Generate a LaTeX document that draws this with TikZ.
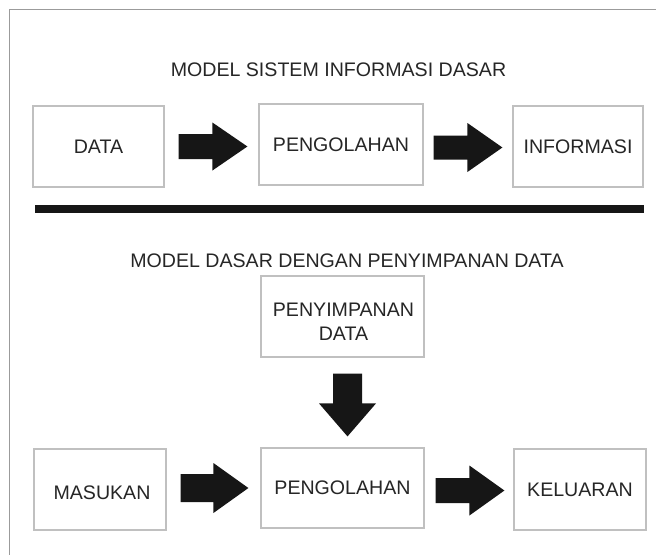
\documentclass[tikz,border=0pt]{standalone}
\usepackage{fontspec}
\setmainfont{Liberation Sans}
\usetikzlibrary{calc}
\definecolor{boxgray}{RGB}{192,192,192}
\definecolor{framegray}{RGB}{155,155,155}
\definecolor{arrowink}{RGB}{22,22,22}
\definecolor{txt}{RGB}{38,38,38}
% horizontal fat arrow: #1 start, #2 tip, #3 half shaft, #4 half head, #5 head length
\newcommand\fatright[5]{%
  \fill[arrowink] let \p1=(#1), \p2=(#2) in
    (\x1,{\y1+#3}) -- ({\x2-#5},{\y1+#3}) -- ({\x2-#5},{\y1+#4}) -- (\x2,\y1)
    -- ({\x2-#5},{\y1-#4}) -- ({\x2-#5},{\y1-#3}) -- (\x1,{\y1-#3}) -- cycle;}
% downward fat arrow
\newcommand\fatdown[5]{%
  \fill[arrowink] let \p1=(#1), \p2=(#2) in
    ({\x1-#3},\y1) -- ({\x1-#3},{\y2+#5}) -- ({\x1-#4},{\y2+#5}) -- (\x1,\y2)
    -- ({\x1+#4},{\y2+#5}) -- ({\x1+#3},{\y2+#5}) -- ({\x1+#3},\y1) -- cycle;}
\begin{document}
\begin{tikzpicture}[x=1pt,y=-1pt,
  lbl/.style={inner sep=0pt, text=txt, align=center,
    font=\fontsize{19.6}{23.5}\selectfont},
  box/.style={lbl, draw=boxgray, line width=1.2pt},
  frameline/.style={draw=framegray, line width=1pt}]
\fill[white] (0,0) rectangle (656,555);
\useasboundingbox (0,0) rectangle (656,555);
\draw[frameline] (656,9) -- (9,9) -- (9,555);

% top model
\node[lbl] (t1) at (338.5,70) {MODEL SISTEM INFORMASI DASAR};
\node[box, minimum width=131pt, minimum height=81pt] (data) at (98.5,146.5) {DATA};
\node[box, minimum width=164pt, minimum height=81pt] (proc1) at (341,144.5) {PENGOLAHAN};
\node[box, minimum width=130pt, minimum height=81pt] (info) at (578,146.5) {INFORMASI};

\coordinate (a1s) at ($(data.east)+(14,0)$);
\coordinate (a1e) at ($(data.east -| proc1.west)+(-11,0)$);
\fatright{a1s}{a1e}{12.5pt}{24pt}{35pt}
\coordinate (a2s) at ($(info.west -| proc1.east)+(10,1)$);
\coordinate (a2e) at ($(info.west)+(-10,1)$);
\fatright{a2s}{a2e}{12pt}{24.5pt}{35pt}

% separator
\fill[arrowink] (35,205) rectangle (644,213);

% bottom model
\node[lbl] (t2) at (347,260.5) {MODEL DASAR DENGAN PENYIMPANAN DATA};
\node[box, minimum width=163pt, minimum height=81pt] (store) at (342.5,316.5) {};
\node[lbl] (storetext) at ($(store.center)+(1,5.5)$) {PENYIMPANAN\\DATA};
\node[box, minimum width=132pt, minimum height=81pt] (input) at (100,489.5) {};
\node[lbl] (inputtext) at ($(input.center)+(2,3)$) {MASUKAN};
\node[box, minimum width=163pt, minimum height=80pt] (proc2) at (342.5,488) {PENGOLAHAN};
\node[box, minimum width=132pt, minimum height=81pt] (output) at (580,489.5) {KELUARAN};

\coordinate (a3s) at ($(input.east)+(14,-1.5)$);
\coordinate (a3e) at ($(input.east -| proc2.west)+(-12,-1.5)$);
\fatright{a3s}{a3e}{14pt}{25pt}{35pt}
\coordinate (a4s) at ($(output.west -| proc2.east)+(11,1)$);
\coordinate (a4e) at ($(output.west)+(-9,1)$);
\fatright{a4s}{a4e}{12.5pt}{25pt}{35pt}
\coordinate (a5s) at ($(store.south)+(5,16)$);
\coordinate (a5e) at ($(proc2.north)+(5,-11)$);
\fatdown{a5s}{a5e}{14.5pt}{28.5pt}{33pt}
\end{tikzpicture}
\end{document}
